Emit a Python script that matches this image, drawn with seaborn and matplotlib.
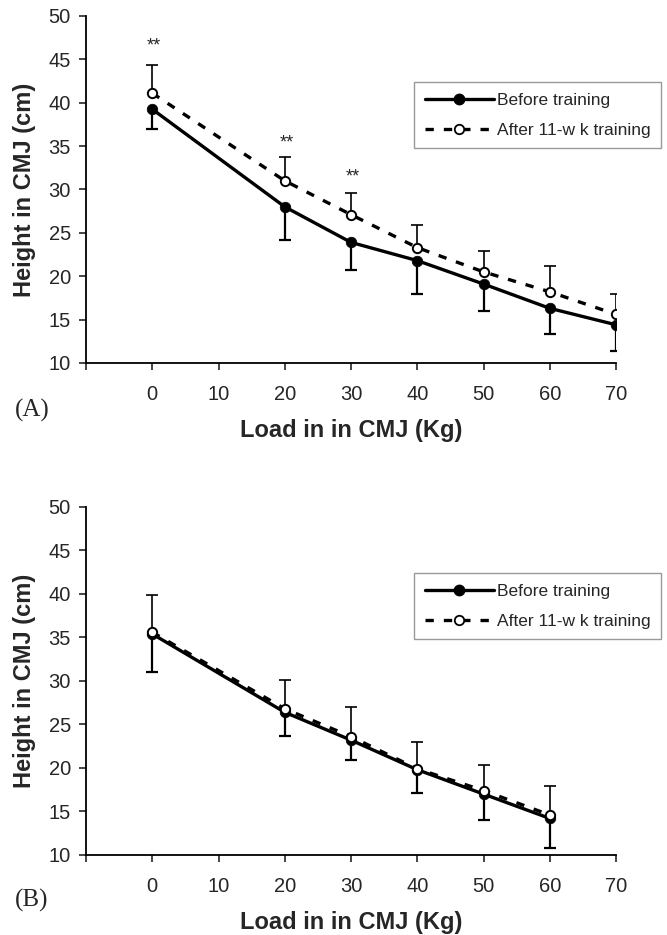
import numpy as np
import matplotlib
matplotlib.use('Agg')
import matplotlib.pyplot as plt
from matplotlib.lines import Line2D
import seaborn as sns

# panel A
load_a = [0, 20, 30, 40, 50, 60, 70]
before_a = [39.25, 28.0, 23.9, 21.8, 19.1, 16.3, 14.4]
before_a_sd = [2.25, 3.8, 3.2, 3.8, 3.1, 3.0, 3.0]
after_a = [41.1, 31.0, 27.1, 23.3, 20.5, 18.2, 15.6]
after_a_sd = [3.2, 2.8, 2.55, 2.6, 2.4, 3.0, 2.4]
star_x = [0, 20, 30]
star_y = [46.5, 35.4, 31.4]

# panel B
load_b = [0, 20, 30, 40, 50, 60]
before_b = [35.4, 26.4, 23.2, 19.8, 17.0, 14.2]
before_b_sd = [4.4, 2.7, 2.3, 2.7, 3.0, 3.4]
after_b = [35.6, 26.8, 23.6, 19.9, 17.4, 14.6]
after_b_sd = [4.3, 3.3, 3.4, 3.1, 2.9, 3.3]

xticks = [-10, 0, 10, 20, 30, 40, 50, 60, 70]
xticklabels = ['', '0', '10', '20', '30', '40', '50', '60', '70']
yticks = [10, 15, 20, 25, 30, 35, 40, 45, 50]

sns.set_style("ticks")
plt.rcParams['font.family'] = ['Liberation Sans', 'DejaVu Sans']

dash = (0, (2.5, 3))


def panel(ax, load, before, bsd, after, asd, tag, tag_y):
    z = np.zeros(len(load))
    eb = ax.errorbar(load, before, yerr=[bsd, z], fmt='none', ecolor='black',
                     elinewidth=1.6, capsize=4.5, capthick=1.6, zorder=2)
    eb.lines[1][1].set_visible(False)
    eb = ax.errorbar(load, after, yerr=[z, asd], fmt='none', ecolor='black',
                     elinewidth=1.2, capsize=4.5, capthick=1.2, zorder=2)
    eb.lines[1][0].set_visible(False)

    sns.lineplot(x=load, y=after, ax=ax, color='black', lw=2.4,
                 linestyle=dash, zorder=3)
    sns.lineplot(x=load, y=before, ax=ax, color='black', lw=2.4, zorder=4)
    sns.scatterplot(x=load, y=before, ax=ax, color='black', edgecolor='black',
                    marker='o', s=58, linewidth=0.5, zorder=5)
    sns.scatterplot(x=load, y=after, ax=ax, color='white', edgecolor='black',
                    marker='o', s=45, linewidth=1.4, zorder=6)

    ax.set_xlim(-10, 70)
    ax.set_ylim(10, 50)
    ax.set_xticks(xticks)
    ax.set_xticklabels(xticklabels)
    ax.set_yticks(yticks)
    ax.tick_params(axis='x', direction='out', length=5, width=1.2, pad=11, labelsize=14.5)
    ax.tick_params(axis='y', direction='out', length=5, width=1.2, pad=6, labelsize=14.5)
    for s in ['left', 'bottom']:
        ax.spines[s].set_linewidth(1.3)
        ax.spines[s].set_color('black')
    sns.despine(ax=ax)
    ax.set_xlabel('Load in in CMJ (Kg)', fontsize=17, fontweight='bold', labelpad=11)
    ax.set_ylabel('Height in CMJ (cm)', fontsize=17, fontweight='bold', labelpad=9)

    handles = [
        Line2D([], [], color='black', lw=2.4, marker='o', markersize=7.5,
               label='Before training'),
        Line2D([], [], color='black', lw=2.4, linestyle=dash, marker='o',
               markersize=6.8, markerfacecolor='white', markeredgecolor='black',
               markeredgewidth=1.3, label='After 11-w k training'),
    ]
    leg = ax.legend(handles=handles, loc='upper left', bbox_to_anchor=(0.619, 0.809),
                    borderaxespad=0, frameon=True, fancybox=False, framealpha=1,
                    edgecolor='#999999', fontsize=12.5, handlelength=4,
                    handletextpad=0.2, borderpad=0.6, labelspacing=0.85)
    leg.get_frame().set_linewidth(1.0)

    fig.text(32 / 667, tag_y, tag, family='Liberation Serif', fontsize=18,
             ha='center', va='center')


fig = plt.figure(figsize=(6.67, 9.35), dpi=100)
ax1 = fig.add_axes([0.129, 0.6118, 0.7946, 0.3711])
ax2 = fig.add_axes([0.129, 0.0856, 0.7946, 0.3722])

panel(ax1, load_a, before_a, before_a_sd, after_a, after_a_sd, '(A)', 1 - 410 / 935)
panel(ax2, load_b, before_b, before_b_sd, after_b, after_b_sd, '(B)', 1 - 900 / 935)

for x, y in zip(star_x, star_y):
    ax1.text(x + 0.3, y, '**', ha='center', va='center', fontsize=13)

fig.savefig('out.png', dpi=100)
